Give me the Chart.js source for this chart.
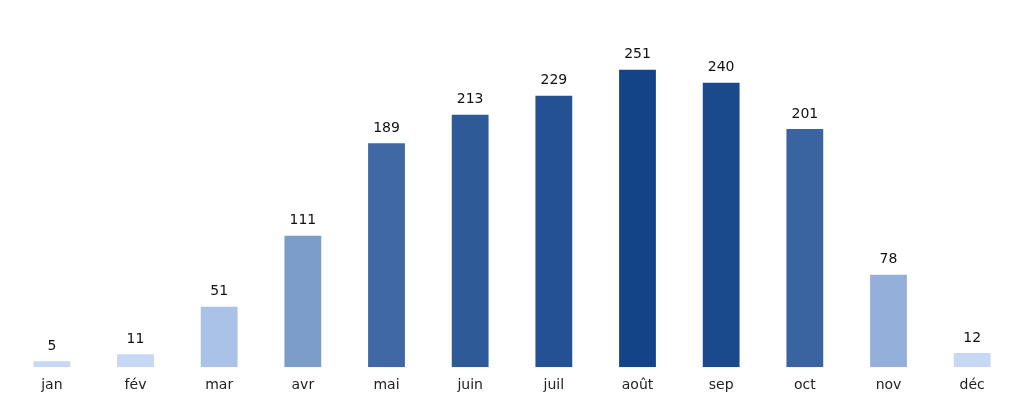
<!DOCTYPE html>
<html>
<head>
<meta charset="utf-8">
<script src="https://cdn.jsdelivr.net/npm/chart.js@4/dist/chart.umd.min.js"></script>
<style>
  html, body { margin: 0; padding: 0; background: #fff; }
  #wrap { width: 1024px; height: 404px; }
</style>
</head>
<body>
<div id="wrap"><canvas id="chart"></canvas></div>
<script>
const mois = ["jan", "fév", "mar", "avr", "mai", "juin", "juil", "août", "sep", "oct", "nov", "déc"];
const valeurs = [5, 11, 51, 111, 189, 213, 229, 251, 240, 201, 78, 12];
const couleurs = ["#c6d8f4", "#c6d8f4", "#aac2e8", "#7c9cca", "#4068a4", "#2e5a98",
  "#245094", "#134488", "#1a4a8c", "#3a64a0", "#94b0da", "#c6d8f4"];

const etiquettes = {
  id: "etiquettes",
  afterDatasetsDraw(chart) {
    const ctx = chart.ctx;
    const meta = chart.getDatasetMeta(0);
    ctx.save();
    ctx.font = "14px 'DejaVu Sans'";
    ctx.fillStyle = "#111";
    ctx.textAlign = "center";
    ctx.textBaseline = "bottom";
    meta.data.forEach((bar, i) => {
      ctx.fillText(String(valeurs[i]), bar.x, bar.y - 8);
    });
    ctx.restore();
  }
};

new Chart(document.getElementById("chart"), {
  type: "bar",
  data: {
    labels: mois,
    datasets: [{
      data: valeurs,
      backgroundColor: couleurs,
      categoryPercentage: 1,
      barPercentage: 0.44
    }]
  },
  options: {
    responsive: true,
    maintainAspectRatio: false,
    animation: false,
    layout: { padding: { left: 10, right: 10, top: 20, bottom: 8 } },
    plugins: { legend: { display: false }, tooltip: { enabled: false } },
    scales: {
      x: {
        grid: { display: false },
        border: { display: false },
        ticks: { color: "#222", font: { family: "DejaVu Sans", size: 14 }, padding: 2 }
      },
      y: {
        display: false,
        min: 0,
        max: 293
      }
    }
  },
  plugins: [etiquettes]
});
</script>
</body>
</html>
